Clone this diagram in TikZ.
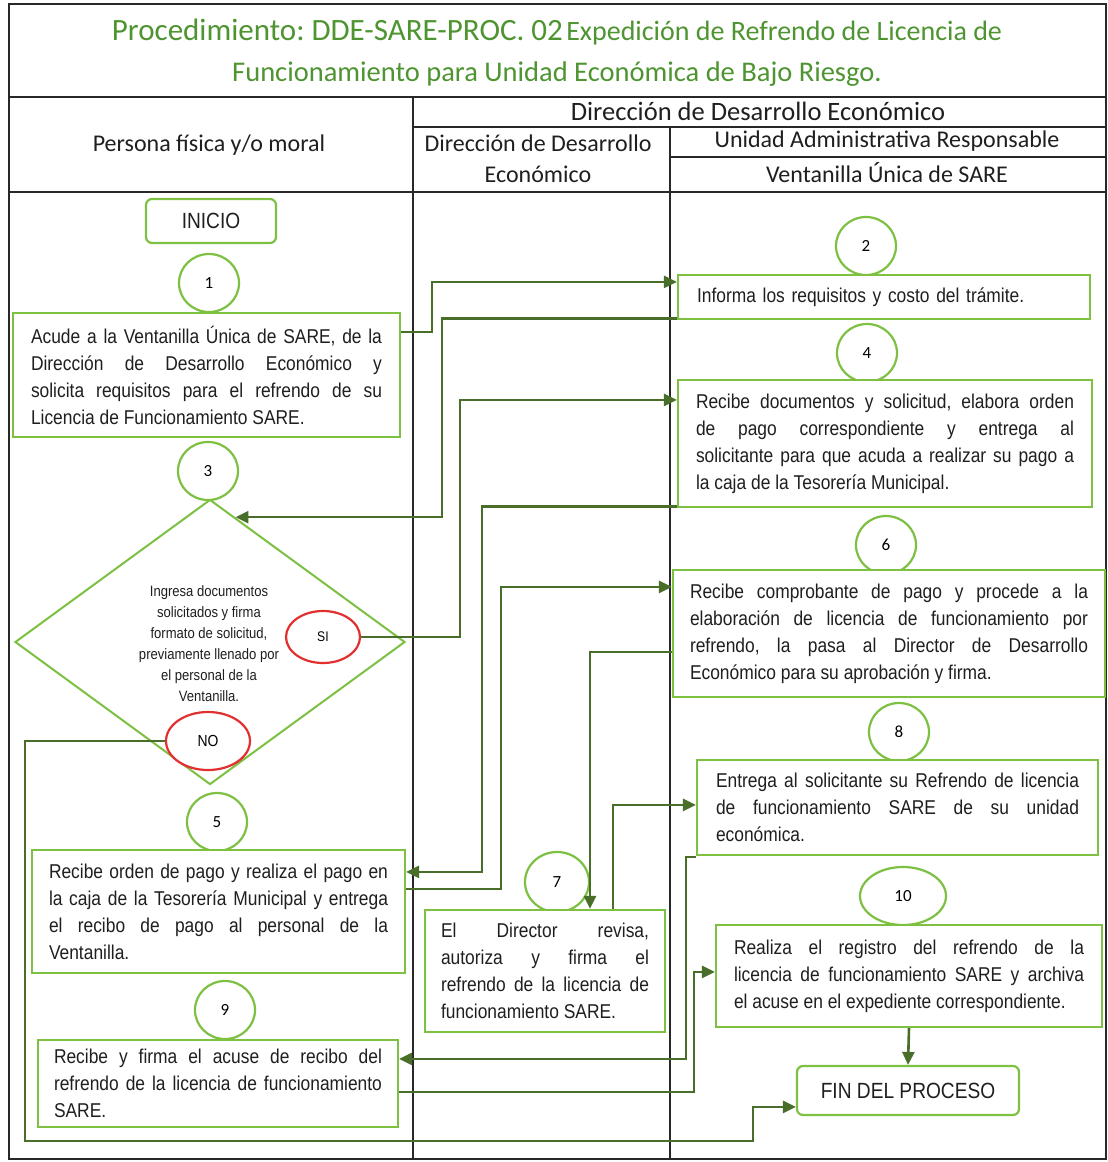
\documentclass[tikz,border=0pt]{standalone}
\usepackage{fontspec}
\usetikzlibrary{arrows.meta,shapes.geometric,calc}
\setmainfont{Liberation Sans}
\newfontfamily\narrowfont{Liberation Sans}[FakeStretch=0.87]
\newfontfamily\calfont{Carlito}
\definecolor{boxgreen}{RGB}{125,192,66}
\definecolor{flowgreen}{RGB}{72,110,42}
\definecolor{titlegreen}{RGB}{78,148,48}
\definecolor{okred}{RGB}{226,48,48}
\definecolor{rulegray}{RGB}{40,40,40}
\newcommand{\nohyph}{\hyphenpenalty=10000\exhyphenpenalty=10000\tolerance=10000\hfuzz=20pt\relax}
\newcommand{\nl}{\linebreak}
\tikzset{
  rule/.style={draw=rulegray, line width=1.3pt},
  stepbox/.style={draw=boxgreen, line width=2.2pt, fill=white, inner ysep=0pt,
    font={\narrowfont\fontsize{20}{27}\selectfont\nohyph}, align=justify, text=black!88},
  numcirc/.style={draw=boxgreen, line width=2.2pt, ellipse, fill=white, inner sep=0pt,
    minimum width=60pt, minimum height=58pt, font={\calfont\fontsize{17}{17}\selectfont}},
  endbox/.style={draw=boxgreen, line width=2.2pt, rounded corners=6pt, fill=white,
    font={\narrowfont\fontsize{22}{22}\selectfont}, text=black!88},
  answer/.style={draw=okred, line width=2.2pt, ellipse, fill=white, inner sep=0pt,
    font={\narrowfont\fontsize{14}{14}\selectfont}},
  flow/.style={draw=flowgreen, line width=2.6pt, -{Triangle[length=13pt,width=12pt]}},
  head/.style={font={\calfont\fontsize{24}{24}\selectfont}, text=black!88},
}
\begin{document}
\frenchspacing
\begin{tikzpicture}[x=1pt,y=-1pt]
\useasboundingbox (0,0) rectangle (1108,1162);
\fill[white] (0,0) rectangle (1108,1162);

% table frame and swimlanes
\draw[rule] (9,4) rectangle (1106,1159);
\draw[rule] (9,97) -- (1106,97);
\draw[rule] (9,192) -- (1106,192);
\draw[rule] (413,97) -- (413,1159);
\draw[rule] (413,127) -- (1106,127);
\draw[rule] (670,127) -- (670,1159);
\draw[rule] (670,157) -- (1106,157);

% title
\node[anchor=base, text=titlegreen, inner sep=0pt] (t1) at (557,40)
  {\calfont{\fontsize{31}{31}\selectfont Procedimiento: DDE-SARE-PROC. 02}\hspace{0.35em}{\fontsize{28}{28}\selectfont Expedición de Refrendo de Licencia de}};
\node[anchor=base, text=titlegreen, inner sep=0pt] (t2) at (557,81)
  {\calfont\fontsize{28.5}{28.5}\selectfont Funcionamiento para Unidad Económica de Bajo Riesgo.};

% headers
\node[head] (h1) at (209,145) {Persona física y/o moral};
\node[head, font={\calfont\fontsize{26.5}{26.5}\selectfont}] (h2) at (758,111) {Dirección de Desarrollo Económico};
\node[head] (h3) at (538,143) {Dirección de Desarrollo};
\node[head] (h4) at (538,174) {Económico};
\node[head] (h5) at (887,141) {Unidad Administrativa Responsable};
\node[head] (h6) at (887,173) {Ventanilla Única de SARE};

% left lane
\node[endbox, minimum width=130pt, minimum height=44pt] (inicio) at (211,221) {INICIO};
\node[numcirc] (c1) at (209,283) {1};
\node[stepbox, text width=351pt, inner xsep=18pt, minimum height=124pt] (b1) at (206.5,375)
  {Acude a la Ventanilla Única de SARE, de la\nl Dirección de Desarrollo Económico y\nl solicita requisitos para el refrendo de su\nl Licencia de Funcionamiento SARE.};
\node[numcirc] (c3) at (208,471) {3};
\node[draw=boxgreen, line width=2pt, diamond, inner sep=0pt, minimum width=390pt, minimum height=285pt] (dia) at (210,642) {};
\node[align=center, font={\narrowfont\fontsize{15}{21}\selectfont}, text=black!88] (diatext) at (209,644)
  {Ingresa documentos\\solicitados y firma\\formato de solicitud,\\previamente llenado por\\el personal de la\\Ventanilla.};
\node[answer, minimum width=74pt, minimum height=52pt] (si) at (323,637) {SI};
\node[answer, minimum width=84pt, minimum height=58pt, font={\narrowfont\fontsize{16}{16}\selectfont}] (no) at (208,741) {NO};
\node[numcirc] (c5) at (217,822) {5};
\node[stepbox, text width=339pt, inner xsep=17pt, minimum height=123pt] (b5) at (218.5,911.5)
  {Recibe orden de pago y realiza el pago en\nl la caja de la Tesorería Municipal y entrega\nl el recibo de pago al personal de la\nl Ventanilla.};
\node[numcirc] (c9) at (225,1010) {9};
\node[stepbox, text width=328pt, inner xsep=16pt, minimum height=87pt] (b9) at (218,1083.5)
  {Recibe y firma el acuse de recibo del\nl refrendo de la licencia de funcionamiento\nl SARE.};

% middle lane
\node[numcirc, minimum width=64pt, minimum height=60pt] (c7) at (557,882) {7};
\node[stepbox, text width=208pt, inner xsep=16pt, minimum height=122pt] (b7) at (545,971)
  {El Director revisa,\nl autoriza y firma el\nl refrendo de la licencia de\nl funcionamiento SARE.};

% right lane
\node[numcirc] (c2) at (866,246) {2};
\node[stepbox, text width=374pt, inner xsep=19pt, minimum height=44pt, align=left] (b2) at (884,297)
  {Informa los requisitos y costo del trámite.};
\node[numcirc] (c4) at (867,353) {4};
\node[stepbox, text width=378pt, inner xsep=18pt, minimum height=127pt] (b4) at (885,443.5)
  {Recibe documentos y solicitud, elabora orden\nl de pago correspondiente y entrega al\nl solicitante para que acuda a realizar su pago a\nl la caja de la Tesorería Municipal.};
\node[numcirc] (c6) at (886,545) {6};
\node[stepbox, text width=398pt, inner xsep=17pt, minimum height=127pt] (b6) at (889,633.5)
  {Recibe comprobante de pago y procede a la\nl elaboración de licencia de funcionamiento por\nl refrendo, la pasa al Director de Desarrollo\nl Económico para su aprobación y firma.};
\node[numcirc] (c8) at (899,732) {8};
\node[stepbox, text width=363pt, inner xsep=19pt, minimum height=95pt] (b8) at (897.5,807.5)
  {Entrega al solicitante su Refrendo de licencia\nl de funcionamiento SARE de su unidad\nl económica.};
\node[numcirc, minimum width=86pt] (c10) at (903,896) {10};
\node[stepbox, text width=350pt, inner xsep=18pt, minimum height=102pt] (b10) at (909,976)
  {Realiza el registro del refrendo de la\nl licencia de funcionamiento SARE y archiva\nl el acuse en el expediente correspondiente.};
\node[endbox, minimum width=222pt, minimum height=49pt] (fin) at (908,1090.5) {FIN DEL PROCESO};

% connectors
\draw[flow] ([yshift=-20pt]b1.north east) -- ++(31,0) |- ([yshift=-8pt]b2.north west);
\draw[flow] ([yshift=1.5pt]b2.south west) -- ++(-235,0) |- ($(dia.north)!0.13!(dia.east)$);
\draw[flow] (si.east) -- ++(99,0) |- ([yshift=-21pt]b4.north west);
\draw[flow] ([yshift=1.5pt]b4.south west) -- ++(-195,0) |- ([yshift=-23pt]b5.north east);
\draw[flow] ([yshift=-40pt]b5.north east) -- ++(95,0) |- ([yshift=-18pt]b6.north west);
\draw[flow] ([yshift=-83pt]b6.north west) -| ([xshift=45pt]b7.north);
\draw[flow] ([xshift=68pt]b7.north) |- ([yshift=-46pt]b8.north west);
\draw[flow] ([yshift=-1pt]b8.south west) -- ++(-10,0) |- ([yshift=-20pt]b9.north east);
\draw[flow] ([yshift=-53pt]b9.north east) -- ++(295,0) |- ([yshift=-48pt]b10.north west);
\draw[flow] (b10.south) -- (fin.north);
\coordinate (nobend) at (25,1141);
\coordinate (finbend) at (753,1141);
\draw[flow] (no.west) -| (nobend) -- (finbend) |- ([yshift=-42pt]fin.north west);
\end{tikzpicture}
\end{document}
